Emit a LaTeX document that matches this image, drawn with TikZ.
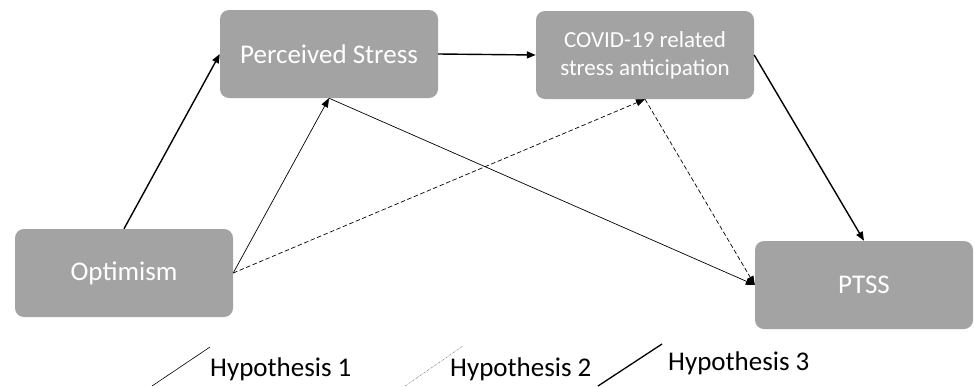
\documentclass[tikz,border=0pt]{standalone}
\usepackage{fontspec}
\setmainfont{Carlito}
\usetikzlibrary{arrows.meta}
\definecolor{boxgray}{HTML}{A3A3A3}
\tikzset{
  box/.style={draw=none, fill=boxgray, rounded corners=9pt, minimum width=218pt, minimum height=88pt, text=white, font=\fontsize{27}{30}\selectfont, align=center, inner sep=0pt},
  smallbox/.style={box, font=\fontsize{23}{28}\selectfont},
  arr/.style={-{Triangle[length=9pt,width=7pt]}, line width=0.7pt},
  thickarr/.style={arr, line width=1.4pt},
  dasharr/.style={arr, dashed, dash pattern=on 4.5pt off 2.5pt},
  legtext/.style={font=\fontsize{27}{30}\selectfont, anchor=west, inner sep=0pt}
}
\begin{document}
\begin{tikzpicture}[x=1pt,y=-1pt]
\useasboundingbox (0,0) rectangle (974,386);
\fill[white] (0,0) rectangle (974,386);
\node[box] (opt) at (124,273) {Optimism};
\node[box] (ps) at (329,54) {Perceived Stress};
\node[smallbox] (cov) at (645,55) {COVID-19 related\\stress anticipation};
\node[box] (ptss) at (864,285) {PTSS};
\draw[thickarr] (opt.north) -- (ps.west);
\draw[thickarr] (ps.east) -- (cov.west);
\draw[thickarr] (cov.east) -- (ptss.north);
\draw[arr] (opt.east) -- (ps.south);
\draw[dasharr] (opt.east) -- (cov.south);
\draw[arr] (ps.south) -- (ptss.west);
\draw[dasharr] (cov.south) -- (ptss.west);
% legend
\coordinate (l1a) at (152,386); \coordinate (l1b) at (210,347);
\coordinate (l2a) at (405,386); \coordinate (l2b) at (463,346);
\coordinate (l3a) at (598,386); \coordinate (l3b) at (662,344);
\draw[line width=0.6pt] (l1a) -- (l1b);
\draw[line width=0.5pt, gray, dash pattern=on 2pt off 1pt on 0.5pt off 1pt] (l2a) -- (l2b);
\draw[line width=1.3pt] (l3a) -- (l3b);
\node[legtext] (h1) at (210,369) {Hypothesis 1};
\node[legtext] (h2) at (450,369) {Hypothesis 2};
\node[legtext] (h3) at (668,363) {Hypothesis 3};
\end{tikzpicture}
\end{document}
